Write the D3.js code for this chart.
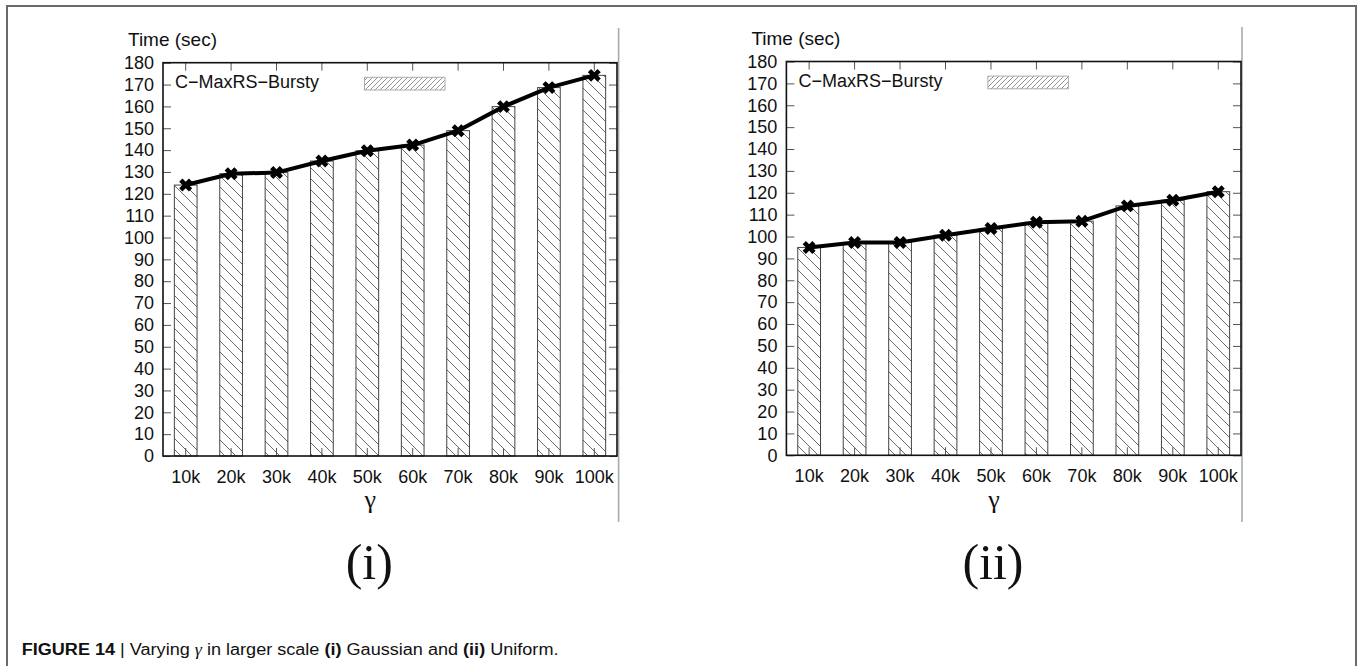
<!DOCTYPE html>
<html>
<head>
<meta charset="utf-8">
<script src="https://cdn.jsdelivr.net/npm/d3@7/dist/d3.min.js"></script>
<style>
  html, body { margin: 0; padding: 0; background: #fff; }
  svg { display: block; }
  text { font-family: "Liberation Sans", Arial, sans-serif; fill: #111; }
</style>
</head>
<body>
<svg id="chart" width="1358" height="666"></svg>
<script>
// ---- data ----
const categories = ["10k", "20k", "30k", "40k", "50k", "60k", "70k", "80k", "90k", "100k"];
const gaussianTimes = [124.0, 129.2, 129.7, 135.0, 139.7, 142.3, 148.9, 159.9, 168.6, 174.2];
const uniformTimes  = [95.0, 97.3, 97.3, 100.6, 103.7, 106.5, 107.0, 114.0, 116.6, 120.5];
const yTicks = [0, 10, 20, 30, 40, 50, 60, 70, 80, 90, 100, 110, 120, 130, 140, 150, 160, 170, 180];
const seriesName = "C\u2212MaxRS\u2212Bursty";
const yTitle = "Time (sec)";
const xTitle = "\u03b3";
const panelLabels = ["(i)", "(ii)"];

// ---- layout ----
const panels = [
  { values: gaussianTimes, left: 163, right: 617, top: 62.7, bottom: 456, grayX: 618.6, grayTop: 28, label: panelLabels[0] },
  { values: uniformTimes,  left: 786.4, right: 1241, top: 61.5, bottom: 455.3, grayX: 1242, grayTop: 27, label: panelLabels[1] }
];

const svg = d3.select("#chart");
const defs = svg.append("defs");

// bar hatch: "\" lines
const hp = defs.append("pattern").attr("id", "barHatch")
  .attr("patternUnits", "userSpaceOnUse").attr("width", 11).attr("height", 11);
hp.append("rect").attr("width", 11).attr("height", 11).attr("fill", "#fff");
hp.append("path").attr("d", "M0,0 L11,11 M-5.5,5.5 L5.5,16.5 M5.5,-5.5 L16.5,5.5")
  .attr("stroke", "#5a5a5a").attr("stroke-width", 0.9);

// legend hatch: "/" dense lines
const lp = defs.append("pattern").attr("id", "legHatch")
  .attr("patternUnits", "userSpaceOnUse").attr("width", 5).attr("height", 5);
lp.append("rect").attr("width", 5).attr("height", 5).attr("fill", "#fff");
lp.append("path").attr("d", "M0,5 L5,0 M-2.5,2.5 L2.5,-2.5 M2.5,7.5 L7.5,2.5")
  .attr("stroke", "#888").attr("stroke-width", 0.9);

// outer figure frame
svg.append("rect").attr("x", 7).attr("y", 6).attr("width", 1349).attr("height", 720)
  .attr("fill", "none").attr("stroke", "#6a6a6a").attr("stroke-width", 2);

panels.forEach((p, pi) => {
  const g = svg.append("g");
  const x = d3.scaleBand().domain(categories).range([p.left, p.right])
    .paddingInner(0.5).paddingOuter(0.25);
  const y = d3.scaleLinear().domain([0, 180]).range([p.bottom, p.top]);

  // gray image edge line
  g.append("line").attr("x1", p.grayX).attr("x2", p.grayX)
    .attr("y1", p.grayTop).attr("y2", 522)
    .attr("stroke", "#aaa").attr("stroke-width", 1.6);

  // bars
  g.selectAll("rect.bar").data(p.values).join("rect").attr("class", "bar")
    .attr("x", (d, i) => x(categories[i]))
    .attr("width", x.bandwidth())
    .attr("y", d => y(d))
    .attr("height", d => y(0) - y(d))
    .attr("fill", "url(#barHatch)")
    .attr("stroke", "#444").attr("stroke-width", 1);

  // axes (ticks pointing inward)
  const axL = g.append("g").attr("transform", `translate(${p.left},0)`)
    .call(d3.axisLeft(y).tickValues(yTicks).tickSizeInner(-8).tickSizeOuter(0).tickPadding(9));
  const axR = g.append("g").attr("transform", `translate(${p.right},0)`)
    .call(d3.axisRight(y).tickValues(yTicks).tickSizeInner(-8).tickSizeOuter(0).tickFormat(""));
  const axT = g.append("g").attr("transform", `translate(0,${p.top})`)
    .call(d3.axisTop(x).tickSizeInner(-8).tickSizeOuter(0).tickFormat(""));
  const axB = g.append("g").attr("transform", `translate(0,${p.bottom})`)
    .call(d3.axisBottom(x).tickSizeInner(-8).tickSizeOuter(0).tickPadding(14));
  [axL, axR, axT, axB].forEach(a => {
    a.select(".domain").remove();
    a.selectAll(".tick line").attr("stroke", "#555").attr("stroke-width", 1);
    a.selectAll("text").style("font-family", '"Liberation Sans", Arial, sans-serif')
      .style("font-size", "18px").attr("fill", "#111");
  });

  // plot frame
  g.append("rect").attr("x", p.left).attr("y", p.top)
    .attr("width", p.right - p.left).attr("height", p.bottom - p.top)
    .attr("fill", "none").attr("stroke", "#111").attr("stroke-width", 1.6);

  // line + markers
  const line = d3.line()
    .x((d, i) => x(categories[i]) + x.bandwidth() / 2)
    .y(d => y(d));
  g.append("path").datum(p.values).attr("d", line)
    .attr("fill", "none").attr("stroke", "#000").attr("stroke-width", 4)
    .attr("stroke-linejoin", "round");
  const sym = d3.symbol().type(d3.symbolCross).size(105);
  g.selectAll("path.mk").data(p.values).join("path").attr("class", "mk")
    .attr("d", sym)
    .attr("transform", (d, i) => `translate(${x(categories[i]) + x.bandwidth() / 2},${y(d)}) rotate(45)`)
    .attr("fill", "#000");

  // legend
  g.append("text").attr("x", p.left + 12).attr("y", p.top + 25)
    .style("font-size", "18px").text(seriesName);
  g.append("rect").attr("x", p.left + 201.5).attr("y", p.top + 14.6)
    .attr("width", 80.5).attr("height", 12.7)
    .attr("fill", "url(#legHatch)").attr("stroke", "#aaa").attr("stroke-width", 1);

  // y title
  g.append("text").attr("x", p.left - 35).attr("y", p.top - 16.5)
    .style("font-size", "19px").text(yTitle);

  // x title (gamma) and panel label
  const cx = x("50k") + x.bandwidth() / 2 + 3;
  g.append("text").attr("x", cx).attr("y", 508).attr("text-anchor", "middle")
    .style("font-family", '"Liberation Serif", "DejaVu Serif", serif')
    .style("font-size", "26px").text(xTitle);
  g.append("text").attr("x", cx - 1).attr("y", 579).attr("text-anchor", "middle")
    .style("font-family", '"Liberation Serif", "DejaVu Serif", serif')
    .style("font-size", "50px").text(p.label);
});

// caption
const cap = svg.append("text").attr("x", 0).attr("y", 0).style("font-size", "16px").attr("fill", "#222");
cap.append("tspan").style("font-weight", "bold").text("FIGURE 14");
cap.append("tspan").text(" | Varying ");
cap.append("tspan").style("font-family", '"Liberation Serif", serif').style("font-style", "italic").text("\u03b3");
cap.append("tspan").text(" in larger scale ");
cap.append("tspan").style("font-weight", "bold").text("(i)");
cap.append("tspan").text(" Gaussian and ");
cap.append("tspan").style("font-weight", "bold").text("(ii)");
cap.append("tspan").text(" Uniform.");
const capW = cap.node().getComputedTextLength();
const targetW = 537;
cap.attr("transform", `translate(21.7,655) scale(${targetW / capW},1)`);
</script>
</body>
</html>
